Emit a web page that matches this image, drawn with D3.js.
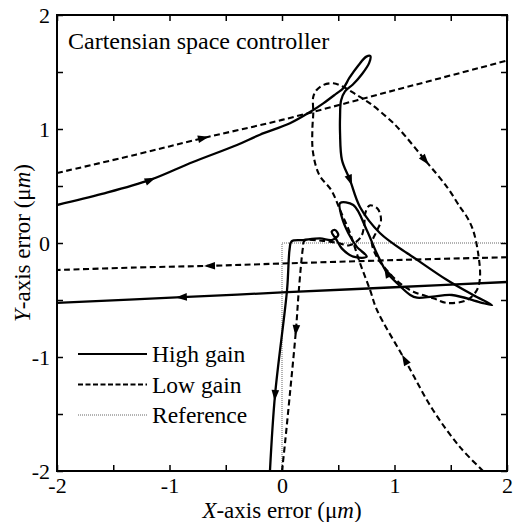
<!DOCTYPE html>
<html>
<head>
<meta charset="utf-8">
<script src="https://cdn.jsdelivr.net/npm/d3@7"></script>
<style>
  body { margin: 0; background: #fff; }
  text { font-family: "Liberation Serif", "Times New Roman", serif; fill: #000; }
  .tick line { stroke: #000; stroke-width: 1.5; }
  .tick text { font-size: 22px; }
</style>
</head>
<body>
<div id="chart"></div>
<script>
// Data (x, y in um)
var highGainIn = [[-2, 0.333], [-1.6, 0.43], [-1.173, 0.553], [-0.791, 0.711], [-0.4, 0.86], [-0.196, 0.95],
  [0.071, 1.05], [0.249, 1.149], [0.367, 1.225], [0.486, 1.313], [0.544, 1.357], [0.6, 1.45], [0.68, 1.56],
  [0.75, 1.635], [0.785, 1.64], [0.775, 1.58], [0.71, 1.48], [0.63, 1.39], [0.56, 1.33], [0.525, 1.25],
  [0.516, 1.108], [0.516, 0.965], [0.533, 0.728], [0.604, 0.553], [0.693, 0.316], [0.87, 0.088],
  [1.11, -0.088], [1.164, -0.123], [1.467, -0.325], [1.698, -0.456], [1.867, -0.544], [1.76, -0.52],
  [1.51, -0.456], [1.34, -0.47], [1.2, -0.48], [1.14, -0.456], [1.02, -0.35], [0.933, -0.26], [0.842, -0.09],
  [0.753, 0.114], [0.634, 0.333], [0.516, 0.35], [0.531, 0.23], [0.59, 0.085], [0.664, -0.032], [0.753, -0.12],
  [0.634, -0.12], [0.531, -0.047], [0.486, 0.026], [0.442, 0.1], [0.471, 0.114], [0.5, 0.07], [0.442, 0.026],
  [0.338, 0.04], [0.19, 0.026], [0.085, 0.015], [0.068, -0.05], [0.045, -0.41], [-0.062, -1.333], [-0.107, -2]];
var highGainBack = [[2, -0.342], [1, -0.388], [0, -0.434], [-0.89, -0.475], [-2, -0.526]];

var lowGainIn = [[-2, 0.614], [-1.3, 0.775], [-0.702, 0.92], [0, 1.08], [1, 1.34], [2, 1.6]];
var lowGainBack = [[2, -0.125], [1, -0.15], [0, -0.18], [-0.64, -0.2], [-1.3, -0.215], [-2, -0.237]];
var lowGainLoop = [[1.787, -2], [1.582, -1.79], [1.342, -1.465], [1.093, -1.026], [0.844, -0.588], [0.782, -0.41],
  [0.693, -0.175], [0.604, 0.088], [0.516, 0.29], [0.44, 0.46], [0.33, 0.6], [0.275, 0.8], [0.27, 1.0],
  [0.278, 1.138], [0.278, 1.283], [0.308, 1.342], [0.367, 1.386], [0.456, 1.401], [0.544, 1.371], [0.664, 1.298],
  [0.782, 1.225], [0.96, 1.079], [1.049, 0.991], [1.271, 0.728], [1.467, 0.491], [1.582, 0.316], [1.644, 0.228],
  [1.698, 0.114], [1.742, -0.08], [1.76, -0.298], [1.733, -0.412], [1.644, -0.5], [1.467, -0.526], [1.345, -0.485],
  [1.167, -0.427], [1.049, -0.354], [0.93, -0.237], [0.842, -0.12], [0.8, 0.0], [0.84, 0.1], [0.88, 0.2],
  [0.85, 0.3], [0.78, 0.33], [0.74, 0.26], [0.73, 0.15], [0.7, 0.05], [0.6, -0.02], [0.5, 0.0], [0.35, 0.02],
  [0.2, 0.02], [0.185, -0.05], [0.15, -0.41], [0.124, -0.763], [0.071, -1.316], [0.027, -1.754], [0, -2]];

var reference = [[0, -2], [0, 0], [2, 0]];

// arrow heads: which series and which vertex, pointing to the next vertex
var arrows = [
  { line: "highGainIn", index: 2 }, { line: "highGainIn", index: 23 }, { line: "highGainIn", index: 37 },
  { line: "highGainIn", index: 58 }, { line: "highGainBack", index: 3 },
  { line: "lowGainIn", index: 2 }, { line: "lowGainBack", index: 3 }, { line: "lowGainLoop", index: 3 },
  { line: "lowGainLoop", index: 23 }, { line: "lowGainLoop", index: 52 }
];

var tickValues = [-2, -1.5, -1, -0.5, 0, 0.5, 1, 1.5, 2];
var legendLabels = ["High gain", "Low gain", "Reference"];

var svgWidth = 521;
var svgHeight = 522;
var margin = { top: 15, right: 14, bottom: 51, left: 57 };
var width = svgWidth - margin.left - margin.right;
var height = svgHeight - margin.top - margin.bottom;

var lines = {
  highGainIn: highGainIn, highGainBack: highGainBack,
  lowGainIn: lowGainIn, lowGainBack: lowGainBack, lowGainLoop: lowGainLoop
};

var svg = d3.select("#chart").append("svg")
  .attr("width", svgWidth)
  .attr("height", svgHeight);

var chartGroup = svg.append("g")
  .attr("transform", `translate(${margin.left}, ${margin.top})`);

var xScale = d3.scaleLinear().domain([-2, 2]).range([0, width]);
var yScale = d3.scaleLinear().domain([-2, 2]).range([height, 0]);

var fmt = d => Number.isInteger(d) ? String(d) : "";

// clip so the curves stop at the frame
chartGroup.append("clipPath").attr("id", "clip")
  .append("rect").attr("width", width).attr("height", height);

var lineGen = d3.line()
  .x(d => xScale(d[0]))
  .y(d => yScale(d[1]))
  .curve(d3.curveCatmullRom.alpha(0.5));

var plot = chartGroup.append("g").attr("clip-path", "url(#clip)");

plot.append("path")
  .attr("d", d3.line().x(d => xScale(d[0])).y(d => yScale(d[1]))(reference))
  .attr("fill", "none")
  .attr("stroke", "#666")
  .attr("stroke-width", 1)
  .attr("stroke-dasharray", "1,1");

["lowGainIn", "lowGainBack", "lowGainLoop"].forEach(function (k) {
  plot.append("path")
    .attr("d", lineGen(lines[k]))
    .attr("fill", "none")
    .attr("stroke", "#000")
    .attr("stroke-width", 2.1)
    .attr("stroke-dasharray", "6,3.5");
});

["highGainIn", "highGainBack"].forEach(function (k) {
  plot.append("path")
    .attr("d", lineGen(lines[k]))
    .attr("fill", "none")
    .attr("stroke", "#000")
    .attr("stroke-width", 2.3);
});

// arrow heads
plot.selectAll(".arrow")
  .data(arrows)
  .enter()
  .append("path")
  .attr("class", "arrow")
  .attr("d", "M6,0 L-5,-3.8 L-5,3.8 Z")
  .attr("fill", "#000")
  .attr("transform", function (d) {
    var p = lines[d.line][d.index];
    var q = lines[d.line][d.index + 1];
    var x0 = xScale(p[0]), y0 = yScale(p[1]);
    var ang = Math.atan2(yScale(q[1]) - y0, xScale(q[0]) - x0) * 180 / Math.PI;
    return `translate(${x0}, ${y0}) rotate(${ang})`;
  });

// axes with inward ticks on all four sides
chartGroup.append("g")
  .attr("transform", `translate(0, ${height})`)
  .call(d3.axisBottom(xScale).tickValues(tickValues).tickFormat(fmt).tickSizeInner(-6).tickSizeOuter(0).tickPadding(6))
  .call(g => g.select(".domain").remove());
chartGroup.append("g")
  .call(d3.axisLeft(yScale).tickValues(tickValues).tickFormat(fmt).tickSizeInner(-6).tickSizeOuter(0).tickPadding(7))
  .call(g => g.select(".domain").remove());
chartGroup.append("g")
  .call(d3.axisTop(xScale).tickValues(tickValues).tickFormat("").tickSizeInner(-6).tickSizeOuter(0))
  .call(g => g.select(".domain").remove());
chartGroup.append("g")
  .attr("transform", `translate(${width}, 0)`)
  .call(d3.axisRight(yScale).tickValues(tickValues).tickFormat("").tickSizeInner(-6).tickSizeOuter(0))
  .call(g => g.select(".domain").remove());

chartGroup.append("rect")
  .attr("width", width)
  .attr("height", height)
  .attr("fill", "none")
  .attr("stroke", "#000")
  .attr("stroke-width", 2);

// title
chartGroup.append("text")
  .attr("x", 11)
  .attr("y", 34)
  .attr("font-size", 24)
  .text("Cartensian space controller");

// legend
var legend = chartGroup.selectAll(".legend")
  .data(legendLabels)
  .enter()
  .append("g")
  .attr("class", "legend")
  .attr("transform", (d, i) => `translate(21, ${339 + i * 30.5})`);

legend.append("line")
  .attr("x1", 0).attr("x2", 69)
  .attr("stroke", (d, i) => i === 2 ? "#666" : "#000")
  .attr("stroke-width", (d, i) => i === 2 ? 1 : 2)
  .attr("stroke-dasharray", (d, i) => i === 0 ? null : (i === 1 ? "5,2.5" : "1,1"));

legend.append("text")
  .attr("x", 74)
  .attr("y", 8)
  .attr("font-size", 23.5)
  .text(d => d);

// axis labels
var xLabel = chartGroup.append("text")
  .attr("x", width / 2)
  .attr("y", height + 47)
  .attr("text-anchor", "middle")
  .attr("font-size", 23);
xLabel.append("tspan").attr("font-style", "italic").text("X");
xLabel.append("tspan").text("-axis error (\u03bc");
xLabel.append("tspan").attr("font-style", "italic").text("m");
xLabel.append("tspan").text(")");

var yLabel = chartGroup.append("text")
  .attr("transform", `translate(-27, ${height / 2}) rotate(-90)`)
  .attr("text-anchor", "middle")
  .attr("font-size", 23);
yLabel.append("tspan").attr("font-style", "italic").text("Y");
yLabel.append("tspan").text("-axis error (\u03bc");
yLabel.append("tspan").attr("font-style", "italic").text("m");
yLabel.append("tspan").text(")");
</script>
</body>
</html>
